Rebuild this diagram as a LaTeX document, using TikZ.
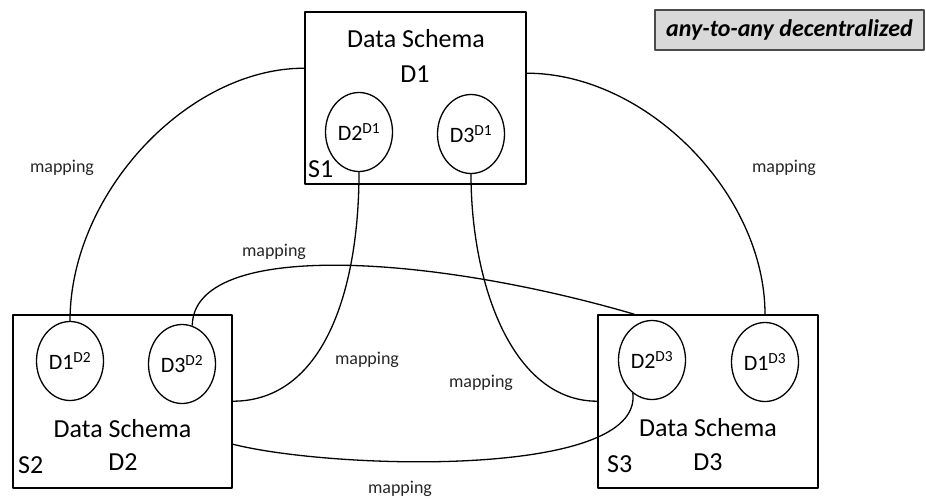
\documentclass[tikz,border=0pt]{standalone}
\usepackage{fontspec}
\setmainfont{Carlito}
\usetikzlibrary{shapes.geometric,calc}
\begin{document}
\begin{tikzpicture}[x=1pt,y=-1pt,line join=round]
\tikzset{
  schema/.style={draw, line width=1.6pt, inner sep=0pt},
  ell/.style={ellipse, draw, line width=1.3pt, minimum width=67pt, minimum height=79pt, inner sep=0pt, font=\fontsize{22}{25}\selectfont},
  big/.style={inner sep=0pt, font=\fontsize{26}{30}\selectfont},
  conn/.style={line width=1.3pt},
  maplbl/.style={inner sep=0pt, font=\fontsize{18}{20}\selectfont, text=black!85},
  titlebox/.style={draw=black!70, fill=gray!30, line width=1.5pt, inner sep=0pt, font=\bfseries\itshape\fontsize{24}{27}\selectfont}
}
\useasboundingbox (0,0) rectangle (926,498);

% title
\node[titlebox, minimum width=269pt, minimum height=40pt] (T) at (789.5,30) {any-to-any decentralized};

% schema S1
\node[schema, minimum width=221pt, minimum height=172pt] (S1) at (415.5,98) {};
\node[big, anchor=base] (S1t) at (416,47) {Data Schema};
\node[big, anchor=base] (S1d) at (415,82) {D1};
\node[big, anchor=base west] (S1l) at (308,177) {S1};
\node[ell] (e21) at (359,132) {D2\textsuperscript{D1}};
\node[ell] (e31) at (471,134) {D3\textsuperscript{D1}};

% schema S2
\node[schema, minimum width=219pt, minimum height=173pt] (S2) at (122.5,401.5) {};
\node[big, anchor=base] (S2t) at (122.5,437) {Data Schema};
\node[big, anchor=base] (S2d) at (123,470) {D2};
\node[big, anchor=base west] (S2l) at (18,473) {S2};
\node[ell] (e12) at (70,361) {D1\textsuperscript{D2}};
\node[ell] (e32) at (182,364) {D3\textsuperscript{D2}};

% schema S3
\node[schema, minimum width=220pt, minimum height=173pt] (S3) at (708,401.5) {};
\node[big, anchor=base] (S3t) at (708,436) {Data Schema};
\node[big, anchor=base] (S3d) at (708,470) {D3};
\node[big, anchor=base west] (S3l) at (607,472) {S3};
\node[ell] (e23) at (652,360) {D2\textsuperscript{D3}};
\node[ell] (e13) at (765,362) {D1\textsuperscript{D3}};

% attachment points
\coordinate (c1) at ([yshift=-57pt]S1.north west);
\coordinate (c2) at ([yshift=-62pt]S1.north east);
\coordinate (c3) at (S3.north -| e13);
\coordinate (c4) at ([yshift=-87pt]S2.north east);
\coordinate (c5) at ([yshift=-87pt]S3.north west);
\coordinate (c6) at ([xshift=37pt]S3.north west);
\coordinate (c7) at ([yshift=-130pt]S2.north east);

% connectors
\draw[conn] (c1) .. controls +(-117,0) and +(0,-127) .. (e12.north);
\draw[conn] (c2) .. controls +(120,0) and +(0,-120) .. (c3);
\draw[conn] (e21.south) .. controls +(0,120) and +(90,0) .. (c4);
\draw[conn] (e31.south) .. controls +(0,110) and +(-85,0) .. (c5);
\draw[conn] (e32.75) .. controls +(1,-86) and +(-205,-60) .. (c6);
\draw[conn] (c7) .. controls +(98,25) and +(10,86) .. (e23.240);

% labels
\node[maplbl] (m1) at (62,168) {mapping};
\node[maplbl] (m2) at (784,168) {mapping};
\node[maplbl] (m3) at (274,252) {mapping};
\node[maplbl] (m4) at (367,360) {mapping};
\node[maplbl] (m5) at (481,383) {mapping};
\node[maplbl] (m6) at (400,489) {mapping};
\end{tikzpicture}
\end{document}
